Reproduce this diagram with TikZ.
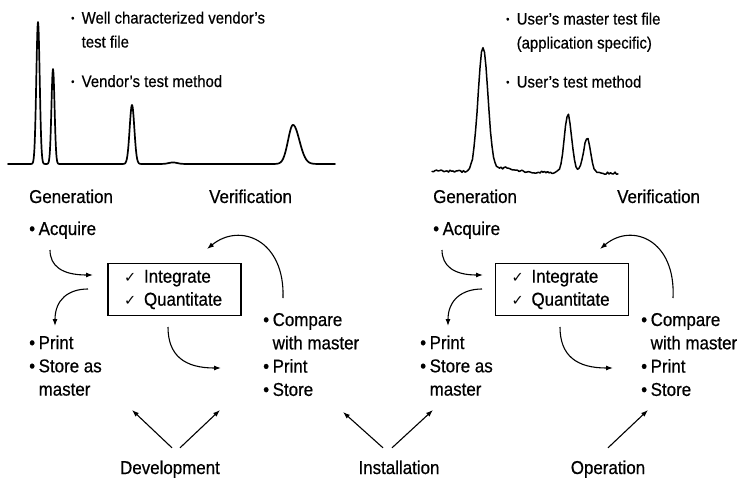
\documentclass[tikz,border=0pt]{standalone}
\usepackage{fontspec}
\setmainfont{Liberation Sans}[FakeStretch=0.91, FakeBold=0.6]
\newfontfamily\ckfont{DejaVu Sans}
\usetikzlibrary{arrows.meta}

% bullets, indents and check marks used in the text blocks
\newcommand\bu{\makebox[9.5pt][l]{•}}
\newcommand\ind{\hspace*{9.5pt}}
\newcommand\sbu{\makebox[10.5pt][l]{\raisebox{2pt}{\fontsize{10}{10}\selectfont •}}}
\newcommand\sind{\hspace*{10.5pt}}
\newcommand\ck{\makebox[20pt][l]{\raisebox{0.5pt}{\ckfont\fontsize{14.5}{14.5}\selectfont ✓}}}
\newcommand\ap{\char39\relax}
\newcommand\lines[1]{\begin{tabular}[t]{@{}l@{}}#1\end{tabular}}

\begin{document}
\begin{tikzpicture}[x=1pt,y=-1pt,
  lbl/.style={font=\fontsize{18.6}{23.3}\selectfont, inner sep=0pt, anchor=base west},
  ctr/.style={font=\fontsize{18.6}{23.3}\selectfont, inner sep=0pt, anchor=base},
  toplbl/.style={font=\fontsize{16.4}{24}\selectfont, inner sep=0pt, anchor=base west},
  arr/.style={-{Latex[length=7pt,width=5pt]}, line width=1.1pt},
  ibox/.style={draw, line width=1.3pt, minimum height=52pt, inner xsep=16pt,
    text width=101pt, align=left, font=\fontsize{18.6}{23}\selectfont},
  chrom/.style={line width=1.7pt, line join=round, line cap=round}]

\useasboundingbox (0,0) rectangle (741,479);

% ---------- vendor chromatogram ----------
\draw[chrom] plot[domain=8:335, samples=982]
  (\x, {164
   - 142*exp(-(min(abs((\x-38)/2.4),3)^2))
   - 95*exp(-(min(abs((\x-53)/2.2),3)^2))
   - 59*exp(-(min(abs((\x-132)/3.3),3)^2))
   - 1.5*exp(-(min(abs((\x-173)/6),3)^2))
   - 39*exp(-(min(abs((\x-293)/(\x<293?7:9)),3)^2))});

\node[toplbl] (vfile) at (71,23.5) {\lines{\sbu Well characterized vendor\ap s\\\sind test file}};
\node[toplbl] (vmeth) at (71,87) {\sbu Vendor\ap s test method};

% ---------- user chromatogram (noisy) ----------
\pgfmathsetseed{3}
\draw[chrom, line width=1.5pt] plot[domain=432:618, samples=125]
  (\x, {171 + (\x-432)*0.012 + 1.1*rand
   - 124*exp(-(min(abs((\x-483)/7),3)^2))
   - 4*exp(-(min(abs((\x-505)/14),3)^2))
   - 58*exp(-(min(abs((\x-568)/5.2),3)^2))
   - 35*exp(-(min(abs((\x-587)/5),3)^2))});

\node[toplbl] (ufile) at (506,24.5) {\lines{\sbu User\ap s master test file\\\sind (application specific)}};
\node[toplbl] (umeth) at (506,87.5) {\sbu User\ap s test method};

% ---------- left cycle ----------
\node[lbl] (gen1) at (29,203) {Generation};
\node[lbl] (ver1) at (209,203) {Verification};
\node[lbl] (acq1) at (29,235) {\bu Acquire};
\node[ibox] (box1) at (174.5,289.5) {\ck Integrate\\\ck Quantitate};
\node[lbl] (prt1) at (29,349) {\lines{\bu Print\\\bu Store as\\\ind master}};
\node[lbl] (cmp1) at (263,326) {\lines{\bu Compare\\\ind with master\\\bu Print\\\bu Store}};

\coordinate (a1s) at (50,250);  \coordinate (a1e) at (93,275);
\coordinate (a2s) at (88,289);  \coordinate (a2e) at (55,326);
\coordinate (a3s) at (168,327); \coordinate (a3e) at (221,368);
\coordinate (a4s) at (283,298); \coordinate (a4e) at (207,249);
\draw[arr] (a1s) .. controls (50,266) and (62,275) .. (a1e);
\draw[arr] (a2s) .. controls (68,289) and (55,300) .. (a2e);
\draw[arr] (a3s) .. controls (168,356) and (185,368) .. (a3e);
\draw[arr] (a4s) .. controls (285,240) and (240,222) .. (a4e);

% ---------- right cycle ----------
\node[lbl] (gen2) at (433,203) {Generation};
\node[lbl] (ver2) at (617,203) {Verification};
\node[lbl] (acq2) at (433,235) {\bu Acquire};
\node[ibox] (box2) at (562,289.5) {\ck Integrate\\\ck Quantitate};
\node[lbl] (prt2) at (420,349) {\lines{\bu Print\\\bu Store as\\\ind master}};
\node[lbl] (cmp2) at (641,326) {\lines{\bu Compare\\\ind with master\\\bu Print\\\bu Store}};

\coordinate (b1s) at (442,250); \coordinate (b1e) at (483,275);
\coordinate (b2s) at (482,289); \coordinate (b2e) at (448,326);
\coordinate (b3s) at (560,327); \coordinate (b3e) at (613,368);
\coordinate (b4s) at (673,298); \coordinate (b4e) at (600,249);
\draw[arr] (b1s) .. controls (442,266) and (454,275) .. (b1e);
\draw[arr] (b2s) .. controls (462,289) and (448,300) .. (b2e);
\draw[arr] (b3s) .. controls (560,356) and (577,368) .. (b3e);
\draw[arr] (b4s) .. controls (676,240) and (632,222) .. (b4e);

% ---------- phases ----------
\node[ctr] (dev) at (170,474) {Development};
\node[ctr] (inst) at (399,474) {Installation};
\node[ctr] (oper) at (608,474) {Operation};

\coordinate (devL) at (132,410); \coordinate (devR) at (220,410);
\coordinate (insL) at (343,412); \coordinate (insR) at (433,410);
\coordinate (opR)  at (648,410);
\draw[arr] ([xshift=2pt,yshift=12.5pt]dev.north) -- (devL);
\draw[arr] ([xshift=10pt,yshift=12.5pt]dev.north) -- (devR);
\draw[arr] ([xshift=-16pt,yshift=12.5pt]inst.north) -- (insL);
\draw[arr] ([xshift=-7pt,yshift=12.5pt]inst.north) -- (insR);
\draw[arr] ([yshift=12.5pt]oper.north) -- (opR);
\end{tikzpicture}
\end{document}
